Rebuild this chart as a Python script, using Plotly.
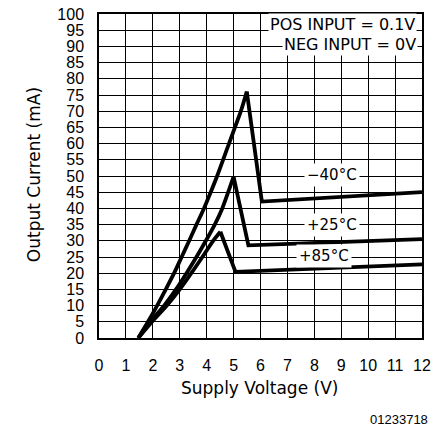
import plotly.graph_objects as go

# Data: rising part (smooth) and peak/drop/flat part
v_m40 = [1.46, 1.82, 2.16, 2.48, 2.79, 3.07, 3.35, 3.62, 3.9, 4.15, 4.39, 4.61, 4.83, 5.05, 5.27, 5.49, 6.05, 12.0]
i_m40 = [0, 5, 10, 15, 20, 25, 30, 35, 40, 45, 50, 55, 60, 65, 70, 76.1, 42.1, 45]

v_p25 = [1.46, 1.9, 2.42, 2.86, 3.25, 3.62, 3.97, 4.3, 4.58, 4.8, 5.0, 5.55, 12.0]
i_p25 = [0, 5, 10, 15, 20, 25, 30, 35, 40, 45, 49.8, 28.6, 30.5]

v_p85 = [1.46, 1.97, 2.52, 3.0, 3.43, 3.84, 4.24, 4.51, 5.07, 12.0]
i_p85 = [0, 5, 10, 15, 20, 25, 30, 32.8, 20.4, 22.7]

x_ticks = list(range(0, 13))
y_ticks = list(range(0, 101, 5))

curve_labels = ["\u221240\u00b0C", "+25\u00b0C", "+85\u00b0C"]
label_pos = [(8.65, 50.3), (8.67, 35), (8.36, 25.3)]

fig = go.Figure()
for vx, iy in [(v_m40, i_m40), (v_p25, i_p25), (v_p85, i_p85)]:
    # index of the peak (maximum current): smooth rise up to it, straight lines after
    k = iy.index(max(iy))
    fig.add_trace(go.Scatter(x=vx[:k + 1], y=iy[:k + 1], mode="lines",
                             line=dict(color="black", width=3.8, shape="spline", smoothing=0.8),
                             showlegend=False, hoverinfo="skip"))
    fig.add_trace(go.Scatter(x=vx[k:], y=iy[k:], mode="lines",
                             line=dict(color="black", width=3.8),
                             showlegend=False, hoverinfo="skip"))

ann = []
for txt, (ax, ay) in zip(curve_labels, label_pos):
    ann.append(dict(x=ax, y=ay, xref="x", yref="y", text=txt, showarrow=False,
                    bgcolor="white", borderpad=2,
                    font=dict(family="DejaVu Sans", size=15, color="black")))

ann.append(dict(x=9.04, y=96.8, xref="x", yref="y", text="POS INPUT = 0.1V",
                showarrow=False, bgcolor="white", borderpad=1,
                font=dict(family="DejaVu Sans", size=16, color="black")))
ann.append(dict(x=9.32, y=90.7, xref="x", yref="y", text="NEG INPUT = 0V",
                showarrow=False, bgcolor="white", borderpad=1,
                font=dict(family="DejaVu Sans", size=16, color="black")))

ann.append(dict(x=-0.238, y=0.503, xref="paper", yref="paper", text="Output Current (mA)",
                textangle=-90, showarrow=False,
                font=dict(family="DejaVu Sans", size=17, color="black")))
ann.append(dict(x=0.498, y=-0.191, xref="paper", yref="paper", text="Supply Voltage (V)",
                showarrow=False,
                font=dict(family="DejaVu Sans", size=17, color="black")))
ann.append(dict(x=1.025, y=-0.281, xref="paper", yref="paper", text="01233718",
                xanchor="right", showarrow=False,
                font=dict(family="Liberation Sans", size=13, color="black")))

fig.update_layout(
    width=433, height=439,
    margin=dict(l=99, r=11, t=14, b=101, autoexpand=False),
    paper_bgcolor="white", plot_bgcolor="white",
    annotations=ann,
    xaxis=dict(range=[0, 12], tickvals=x_ticks, ticktext=[str(t) for t in x_ticks],
               showgrid=True, gridcolor="black", gridwidth=1.2,
               showline=True, linecolor="black", linewidth=1.5, mirror=True,
               zeroline=False, ticks="", ticklabelstandoff=12, automargin=False,
               tickfont=dict(family="Liberation Sans", size=16, color="black")),
    yaxis=dict(range=[0, 100], tickvals=y_ticks, ticktext=[str(t) for t in y_ticks],
               showgrid=True, gridcolor="black", gridwidth=1.2,
               showline=True, linecolor="black", linewidth=1.5, mirror=True,
               zeroline=False, ticks="", ticklabelstandoff=10, automargin=False,
               tickfont=dict(family="Liberation Sans", size=16, color="black")),
)

fig.write_html("out.html", config={"displayModeBar": False},
               post_script="document.body.style.margin='0';document.body.style.overflow='hidden';")
